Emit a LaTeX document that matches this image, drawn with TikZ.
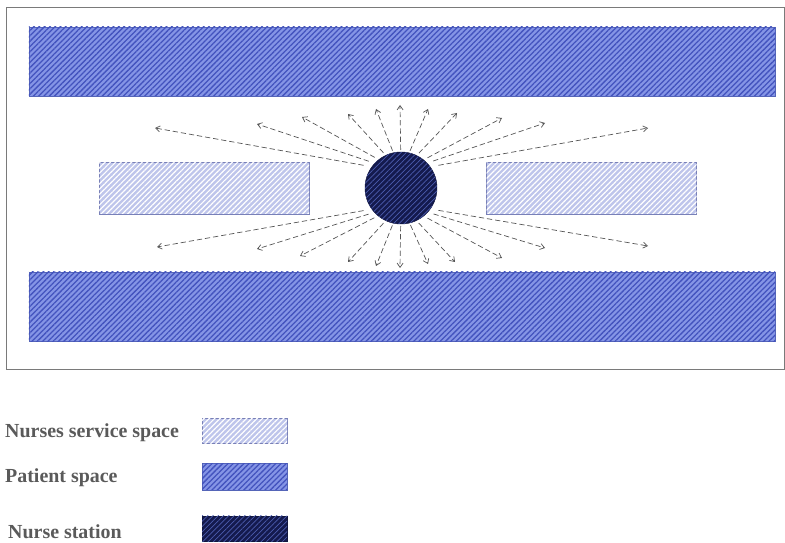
\documentclass[tikz,border=0pt]{standalone}
\usepackage{fontspec}
\setmainfont{Liberation Serif}
\usepackage{xcolor}
\usetikzlibrary{arrows.meta,patterns.meta}
\definecolor{patfill}{HTML}{8595E6}
\definecolor{patline}{HTML}{4353BE}
\definecolor{patedge}{HTML}{5565B8}
\definecolor{srvfill}{HTML}{BEC5EB}
\definecolor{srvedge}{HTML}{7880B8}
\definecolor{stafill}{HTML}{141A4E}
\definecolor{staline}{HTML}{4C5CAE}
\definecolor{rayc}{HTML}{555555}
\definecolor{framec}{HTML}{7A7A7A}
\definecolor{legc}{HTML}{5A5A5A}

\begin{document}
\begin{tikzpicture}[x=0.03cm,y=-0.03cm,
  patient/.style={draw=patedge,fill=patfill,inner sep=0pt,
    postaction={pattern={Lines[angle=45,distance=3.2pt,line width=1.1pt]},pattern color=patline}},
  service/.style={draw=srvedge,fill=srvfill,inner sep=0pt,
    postaction={pattern={Lines[angle=45,distance=3.2pt,line width=1.0pt]},pattern color=white}},
  station/.style={draw=stafill!80!black,fill=stafill,inner sep=0pt,
    postaction={pattern={Lines[angle=45,distance=3.2pt,line width=0.6pt]},pattern color=staline}},
  ray/.style={-{Straight Barb[length=1.3mm,width=1.8mm]},rayc,line width=0.6pt,
    dash pattern=on 4.5pt off 2.5pt},
  leg/.style={anchor=base west,inner sep=0pt,font=\fontsize{17}{20}\selectfont\bfseries,text=legc},
]
\useasboundingbox (0,0) rectangle (785,543);
\draw[framec,line width=0.8pt] (6,7) rectangle (784,369);

% patient rooms
\node[patient,minimum width=22.38cm,minimum height=2.07cm] (ptop) at (402,61.5) {};
\node[patient,minimum width=22.38cm,minimum height=2.07cm] (pbot) at (402,306.5) {};

% nurses service space
\node[service,minimum width=6.3cm,minimum height=1.56cm] (sleft) at (204,188) {};
\node[service,minimum width=6.3cm,minimum height=1.56cm] (sright) at (591.5,188) {};

% nurse station
\node[station,circle,minimum size=2.16cm] (ns) at (401,188) {};
\coordinate (ftop) at (401,172);
\coordinate (fbot) at (401,204);

% lines of sight
\foreach \ex/\ey/\s [count=\i] in {155/128/38,257/124/34,302/117/30,348/114/26,376/109/23,
    400/105/22,428/109/23,457/113/26,502/118/30,545/123/34,648/128/38}{
  \coordinate (t\i) at (\ex,\ey);
  \draw[ray,shorten <=\s*0.03cm] (ftop) -- (t\i);
}
\foreach \ex/\ey/\s [count=\i] in {157/247/38,257/249/34,300/256/30,348/262/26,376/266/23,
    400/268/22,428/264/23,455/262/26,502/258/30,545/248/34,648/246/38}{
  \coordinate (b\i) at (\ex,\ey);
  \draw[ray,shorten <=\s*0.03cm] (fbot) -- (b\i);
}

% legend
\node[leg] (lsrv) at (5,437) {Nurses service space};
\node[leg] (lpat) at (5,482) {Patient space};
\node[leg] (lsta) at (8,538) {Nurse station};
\node[service,minimum width=2.55cm,minimum height=0.76cm] (ksrv) at (244.5,430.5) {};
\node[patient,minimum width=2.55cm,minimum height=0.8cm] (kpat) at (244.5,476.5) {};
\node[station,minimum width=2.55cm,minimum height=0.76cm] (ksta) at (244.5,528.5) {};
\end{tikzpicture}
\end{document}
